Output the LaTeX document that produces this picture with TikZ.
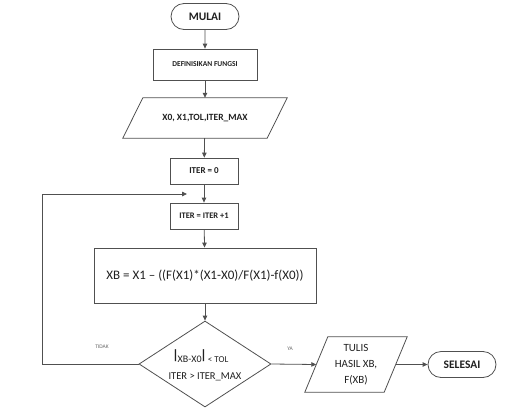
\documentclass[tikz,border=0pt]{standalone}
\usepackage{fontspec}
\setmainfont{Carlito}
\usetikzlibrary{shapes.geometric,shapes.misc,arrows.meta}
\definecolor{linec}{HTML}{505050}
\definecolor{textc}{HTML}{202020}
\newcommand{\absbar}{\kern-1.2pt\raisebox{2.2pt}{\fontsize{13.5}{13}\selectfont\bfseries|}\kern-1.2pt}
\tikzset{
  base/.style={draw=linec, line width=0.8pt, fill=white, text=textc, inner sep=1pt, align=center},
  term/.style={base, rounded rectangle, minimum width=70pt, minimum height=26pt, font=\fontsize{11.5}{13}\selectfont\bfseries},
  proc/.style={base, rectangle, font=\fontsize{8.5}{10}\selectfont\bfseries},
  iobody/.style={rectangle, text=textc, inner sep=1pt, align=center},
  ioline/.style={draw=linec, line width=0.8pt, line join=miter},
  dec/.style={base, diamond, minimum width=132pt, minimum height=86pt, inner sep=0pt},
  conn/.style={draw=linec, line width=0.8pt, -{Triangle[length=5pt,width=4.5pt]}},
  lbl/.style={text=black!60, font=\fontsize{5.5}{6}\selectfont}
}
\begin{document}
\begin{tikzpicture}[x=1pt,y=-1pt]
\useasboundingbox (0,0) rectangle (512,416);
\node[term] (start) at (205,16.5) {MULAI};
\node[proc, minimum width=104pt, minimum height=31pt, font=\fontsize{7.5}{9}\selectfont\bfseries] (def) at (205,64.5) {DEFINISIKAN FUNGSI};
\node[iobody, minimum width=144pt, minimum height=40pt, font=\fontsize{9.5}{11}\selectfont\bfseries] (in) at (205,118) {X0, X1,TOL,ITER\_MAX};
\draw[ioline] ([xshift=-10pt]in.south west) -- ([xshift=10pt]in.north west) -- ([xshift=10pt]in.north east) -- ([xshift=-10pt]in.south east) -- cycle;
\node[proc, minimum width=68pt, minimum height=26pt, font=\fontsize{9}{10}\selectfont\bfseries] (it0) at (204,171) {ITER = 0};
\node[proc, minimum width=68pt, minimum height=26pt] (it1) at (204,216) {ITER = ITER +1};
\node[base, rectangle, minimum width=222pt, minimum height=55pt, font=\fontsize{13}{15}\selectfont] (xb) at (205,275.5) {XB = X1 -- ((F(X1)*(X1-X0)/F(X1)-f(X0))};
\node[dec] (dec) at (205,364) {};
\node[text=textc, inner sep=0pt, anchor=base] (c1) at (201,362) {\absbar{\fontsize{10}{10}\selectfont XB-X0}\absbar\ {\fontsize{9}{10}\selectfont < TOL}};
\node[text=textc, font=\fontsize{10.5}{12}\selectfont] (c2) at (205,377) {ITER > ITER\_MAX};
\node[iobody, minimum width=79pt, minimum height=55pt, font=\fontsize{11}{16}\selectfont] (out) at (356,364.5) {TULIS\\HASIL XB,\\F(XB)};
\draw[ioline] ([xshift=-11.5pt]out.south west) -- ([xshift=11.5pt]out.north west) -- ([xshift=11.5pt]out.north east) -- ([xshift=-11.5pt]out.south east) -- cycle;
\node[term] (end) at (462,364.5) {SELESAI};
\coordinate (lx) at (42,194);
\coordinate (lend) at (187,194);
\node[lbl] (tidak) at (102,347) {TIDAK};
\node[lbl] (ya) at (290,349) {YA};
\draw[conn] (start) -- (def);
\draw[conn] (def) -- (in);
\draw[conn] (in) -- (it0);
\draw[conn] (it0) -- (it1);
\draw[conn] (it1) -- (xb);
\draw[conn] (xb) -- (dec);
\draw[conn] (dec.east) -- (out.west);
\draw[conn] (out.east) -- (end);
\draw[conn] (dec.west) -| (lx) -- (lend);
\end{tikzpicture}
\end{document}
